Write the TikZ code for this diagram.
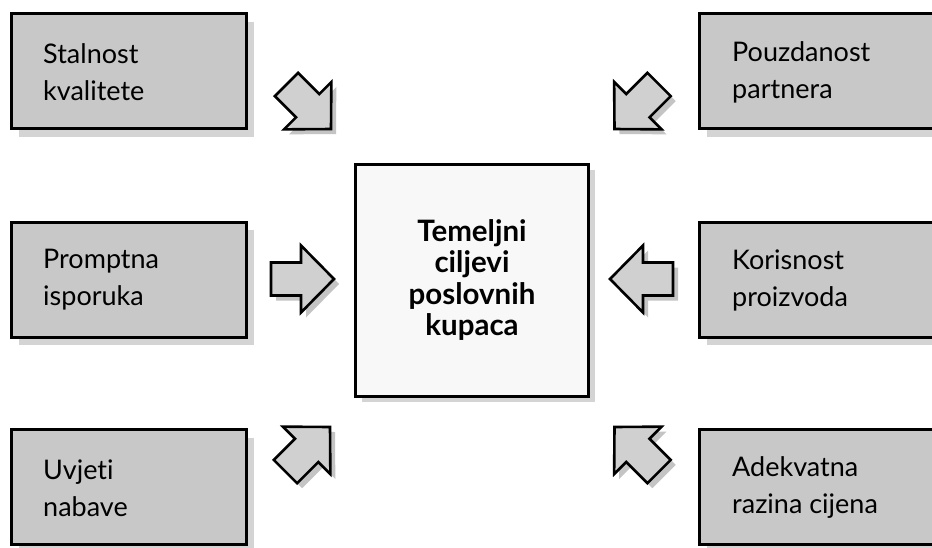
\documentclass[tikz,border=0pt]{standalone}
\usepackage{fontspec}
\setmainfont{Lato}[Ligatures=NoCommon]
\definecolor{boxfill}{HTML}{C8C8C8}
\definecolor{boxshadow}{HTML}{D4D4D4}
\definecolor{centerfill}{HTML}{F8F8F8}
\definecolor{arrowfill}{HTML}{D0D0D0}
\definecolor{arrowshadow}{HTML}{C4C4C4}
\tikzset{
  sidebox/.style={draw=black, line width=3pt, fill=boxfill, minimum width=235pt, minimum height=115pt, inner sep=0pt},
  shadowbox/.style={fill=boxshadow, minimum width=235pt, minimum height=115pt, inner sep=0pt},
  centerbox/.style={draw=black, line width=3pt, fill=centerfill, minimum width=233pt, minimum height=232pt, inner sep=0pt},
  sidetext/.style={align=left, anchor=west, font=\fontsize{27}{37}\selectfont, inner sep=0pt},
  centertext/.style={align=center, font=\fontsize{29.5}{31.5}\selectfont\bfseries, inner sep=0pt},
  arrowst/.style={draw=black, line width=2.6pt, fill=arrowfill, line join=miter},
  arrowsh/.style={fill=arrowshadow},
}
\def\arrowpath{(0,0) -- (-33,33.5) -- (-33,16.5) -- (-63,16.5) -- (-63,-16.5) -- (-33,-16.5) -- (-33,-33.5) -- cycle}
\newcommand\fatarrow[3]{%
  \begin{scope}[shift={(#1+5,#2+5)}]\fill[arrowsh,rotate=#3] \arrowpath;\end{scope}
  \begin{scope}[shift={(#1,#2)}]\filldraw[arrowst,rotate=#3] \arrowpath;\end{scope}}
\begin{document}
\begin{tikzpicture}[x=1pt,y=-1pt]
\useasboundingbox (0,0) rectangle (932,547);
\fill[white] (0,0) rectangle (932,547);
% shadows of boxes
\node[shadowbox] (s1) at (136.75,79) {};
\node[shadowbox] (s2) at (136.75,287.5) {};
\node[shadowbox] (s3) at (136.75,495) {};
\node[shadowbox] (s4) at (824.5,79) {};
\node[shadowbox] (s5) at (824.5,287.5) {};
\node[shadowbox] (s6) at (824.5,495) {};
\node[fill=boxshadow, minimum width=233pt, minimum height=232pt, inner sep=0pt] (sc) at (478,286) {};
% boxes
\node[sidebox] (b1) at (128.75,71) {};
\node[sidebox] (b2) at (128.75,279.5) {};
\node[sidebox] (b3) at (128.75,487) {};
\node[sidebox] (b4) at (816.5,71) {};
\node[sidebox] (b5) at (816.5,279.5) {};
\node[sidebox] (b6) at (816.5,487) {};
\node[centerbox] (c) at (472,280) {};
% texts
\node[sidetext] (t1) at (43,72) {Stalnost\\kvalitete};
\node[sidetext] (t2) at (43,280) {Promptna\\isporuka};
\node[sidetext] (t3) at (43,488) {Uvjeti\\nabave};
\node[sidetext] (t4) at (732,72) {Pouzdanost\\partnera};
\node[sidetext] (t5) at (732,280) {Korisnost\\proizvoda};
\node[sidetext] (t6) at (732,488) {Adekvatna\\razina cijena};
\node[centertext] (ct) at (472,280) {Temeljni\\ciljevi\\poslovnih\\kupaca};
% arrows
\fatarrow{334}{279}{0}
\fatarrow{610}{279}{180}
\fatarrow{331}{129}{-45}
\fatarrow{614.5}{129}{-135}
\fatarrow{330}{427}{45}
\fatarrow{614.5}{427}{135}
\end{tikzpicture}
\end{document}
